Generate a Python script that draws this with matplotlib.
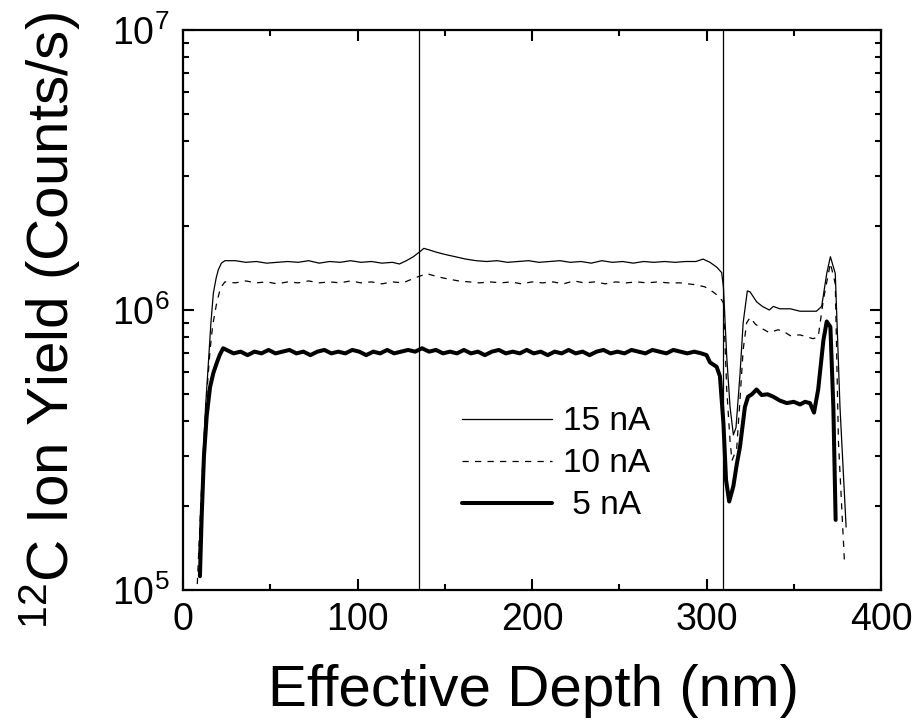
import matplotlib
matplotlib.use("Agg")
import matplotlib.pyplot as plt
from matplotlib.ticker import LogLocator, MultipleLocator, NullFormatter

plt.rcParams['font.family'] = ['Liberation Sans', 'DejaVu Sans']
plt.rcParams['mathtext.fontset'] = 'custom'
plt.rcParams['mathtext.rm'] = 'Liberation Sans'
plt.rcParams['mathtext.it'] = 'Liberation Sans:italic'
plt.rcParams['mathtext.bf'] = 'Liberation Sans:bold'
plt.rcParams['mathtext.default'] = 'regular'

# ---------------- data (yield in units of 1e6 counts/s) ----------------
depth_15 = [9.0, 10.5, 11.7, 13.0, 14.5, 16.0, 17.4, 19.0, 20.2, 22.0, 24,
            30, 36, 42, 48, 54, 60, 66, 72, 78, 84, 90, 96, 102, 108, 114, 120,
            124, 128, 132, 136, 138, 141, 145, 150, 156, 162, 168, 174, 180,
            186, 192, 198, 204, 210, 216, 222, 228, 234, 240, 246, 252, 258,
            264, 270, 276, 282, 288, 294, 298, 302, 306, 308.7,
            309.7, 311.6, 313.5, 315.4, 316.9, 319.2, 321.0, 323.4, 325.0,
            328.7, 332, 336, 338.3, 342, 348, 353.6, 358, 363, 366, 368.9,
            371, 373.8, 376.5, 380]
yield_15 = [0.13, 0.20, 0.316, 0.46, 0.64, 0.90, 1.15, 1.30, 1.39, 1.47, 1.50,
            1.50, 1.48, 1.49, 1.47, 1.48, 1.49, 1.48, 1.50, 1.47, 1.49, 1.48, 1.50, 1.48, 1.49, 1.47, 1.48,
            1.46, 1.50, 1.55, 1.62, 1.66, 1.64, 1.61, 1.58, 1.55, 1.52, 1.50, 1.49, 1.50,
            1.48, 1.49, 1.50, 1.48, 1.49, 1.50, 1.48, 1.49, 1.47, 1.50, 1.48, 1.49, 1.47,
            1.49, 1.48, 1.49, 1.48, 1.49, 1.49, 1.52, 1.48, 1.42, 1.36,
            1.21, 0.68, 0.45, 0.358, 0.38, 0.59, 0.90, 1.17, 1.16,
            1.07, 1.03, 1.00, 1.03, 1.01, 1.01, 0.99, 0.99, 0.99, 1.03, 1.35,
            1.55, 1.35, 0.45, 0.168]

depth_10 = [8.2, 9.5, 11.0, 12.5, 14.0, 15.5, 17.0, 19.3, 21.5, 24,
            30, 36, 42, 48, 54, 60, 66, 72, 78, 84, 90, 96, 102, 108, 114, 120,
            126, 130, 134, 137, 139.6, 143, 147, 152, 158, 164, 170, 176, 182,
            188, 194, 200, 206, 212, 218, 224, 230, 236, 242, 248, 254, 260,
            266, 272, 278, 285, 294, 299, 303.8, 307.7,
            309.7, 311.6, 313.5, 314.6, 317.3, 319.2, 321, 323, 325, 328,
            331.6, 336, 341, 344, 348, 353.6, 358, 361, 364, 367, 371, 373.8,
            375.6, 379]
yield_10 = [0.105, 0.16, 0.26, 0.38, 0.54, 0.72, 0.88, 1.06, 1.20, 1.26,
            1.25, 1.27, 1.25, 1.26, 1.24, 1.26, 1.25, 1.27, 1.25, 1.26, 1.25, 1.27, 1.25, 1.26, 1.24, 1.26,
            1.25, 1.28, 1.31, 1.33, 1.35, 1.33, 1.31, 1.29, 1.27, 1.26, 1.25, 1.26, 1.25,
            1.26, 1.24, 1.26, 1.25, 1.26, 1.24, 1.27, 1.25, 1.26, 1.24, 1.26, 1.25, 1.26,
            1.25, 1.26, 1.25, 1.25, 1.23, 1.21, 1.16, 1.11,
            1.06, 0.52, 0.34, 0.29, 0.32, 0.48, 0.72, 0.90, 0.94, 0.89,
            0.86, 0.83, 0.85, 0.84, 0.81, 0.815, 0.80, 0.79, 0.80, 1.09, 1.47, 1.24,
            0.34, 0.128]

depth_5 = [9.7, 10.7, 12.0, 13.6, 15.5, 17.4, 19.3, 21.0, 23.0,
           25, 29, 33, 37, 41, 45, 49, 53, 57, 61, 65, 69, 73, 77, 81, 85, 89,
           93, 97, 101, 105, 109, 113, 117, 121, 125, 129, 133, 137, 141, 145,
           149, 153, 157, 161, 165, 169, 173, 177, 181, 185, 189, 193, 197,
           201, 205, 209, 213, 217, 221, 225, 229, 233, 237, 241, 245, 249,
           253, 257, 261, 265, 269, 273, 277, 281, 285, 289, 293, 297,
           300, 302, 305.8, 307.7, 309.7, 311.2, 313, 315.4, 317.3, 319.2,
           322, 323.8, 326, 328.7, 331.6, 335, 338.3, 342, 346, 350, 353.6,
           356.5, 359.3, 361.6, 364, 367, 368.9, 371, 372.7, 374]
yield_5 = [0.112, 0.183, 0.30, 0.42, 0.53, 0.596, 0.646, 0.69, 0.73,
           0.72, 0.70, 0.71, 0.69, 0.71, 0.70, 0.72, 0.70, 0.71, 0.72, 0.70, 0.71, 0.69, 0.71, 0.72, 0.70, 0.71,
           0.70, 0.72, 0.71, 0.69, 0.71, 0.70, 0.72, 0.70, 0.71, 0.72, 0.71, 0.73, 0.71, 0.72,
           0.70, 0.71, 0.70, 0.72, 0.70, 0.71, 0.69, 0.71, 0.72, 0.70, 0.71, 0.70, 0.72,
           0.70, 0.71, 0.69, 0.71, 0.70, 0.72, 0.70, 0.71, 0.69, 0.71, 0.72, 0.70, 0.71,
           0.70, 0.72, 0.71, 0.70, 0.72, 0.71, 0.70, 0.72, 0.71, 0.70, 0.71, 0.70,
           0.69, 0.65, 0.627, 0.58, 0.394, 0.247, 0.207, 0.235, 0.28, 0.325,
           0.45, 0.49, 0.50, 0.52, 0.497, 0.50, 0.49, 0.475, 0.465, 0.47, 0.46,
           0.47, 0.465, 0.43, 0.52, 0.78, 0.91, 0.87, 0.45, 0.178]

vlines_depth = [135, 309.5]
series_labels = ["15 nA", "10 nA", " 5 nA"]
x_ticks = [0, 100, 200, 300, 400]

# ---------------- figure ----------------
fig = plt.figure(figsize=(9.17, 7.27), dpi=100)
ax = fig.add_axes([183/917, 1-590/727, (881-183)/917, (590-30)/727])

scale = 1e6
ax.plot(depth_15, [v*scale for v in yield_15], color='black', lw=0.9,
        label=series_labels[0])
ax.plot(depth_10, [v*scale for v in yield_10], color='black', lw=0.9,
        linestyle=(0, (5, 5)), label=series_labels[1])
ax.plot(depth_5, [v*scale for v in yield_5], color='black', lw=2.9,
        solid_capstyle='round', solid_joinstyle='round', label=series_labels[2])

for xv in vlines_depth:
    ax.axvline(xv, color='black', lw=0.9)

ax.set_yscale('log')
ax.set_xlim(0, 400)
ax.set_ylim(1e5, 1e7)
ax.set_xticks(x_ticks)
ax.xaxis.set_minor_locator(MultipleLocator(50))
ax.yaxis.set_major_locator(LogLocator(base=10, numticks=10))
ax.yaxis.set_minor_locator(LogLocator(base=10, subs=range(2, 10), numticks=20))
ax.yaxis.set_minor_formatter(NullFormatter())

ax.tick_params(which='both', direction='in', top=True, right=True,
               width=1.5, labelsize=27)
ax.tick_params(axis='x', which='major', pad=9)
ax.tick_params(axis='y', which='major', pad=9.5)
ax.tick_params(which='major', length=8)
ax.tick_params(which='minor', length=4.5)
for sp in ax.spines.values():
    sp.set_linewidth(1.6)

leg = ax.legend(loc='center left', bbox_to_anchor=(0.40, 0.225),
                frameon=False, fontsize=24, handlelength=2.7,
                handletextpad=0.33, labelspacing=0.33, borderpad=0,
                borderaxespad=0)

fig.text(50/917, 1-321/727, r'$^{12}$C Ion Yield (Counts/s)', rotation=90,
         ha='center', va='center', fontsize=42)
fig.text(533/917, 1-706/727, 'Effective Depth (nm)', ha='center',
         va='baseline', fontsize=42)

fig.savefig('out.png', dpi=100)
